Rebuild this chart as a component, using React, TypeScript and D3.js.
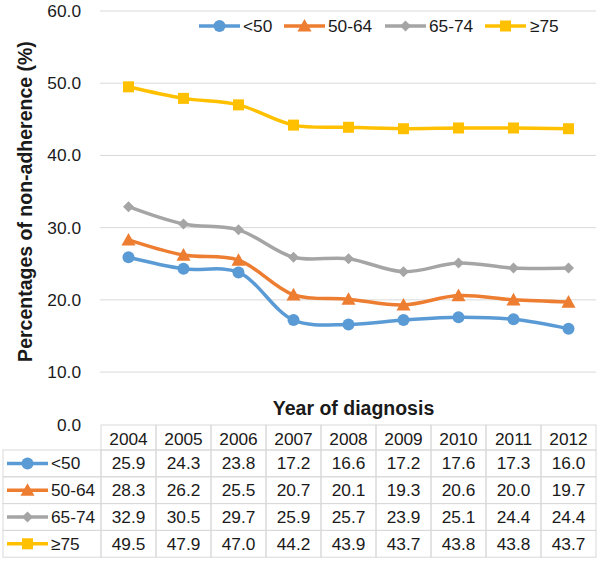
import React from "react";
import * as d3 from "d3";

const years = ["2004", "2005", "2006", "2007", "2008", "2009", "2010", "2011", "2012"];
const seriesNames = ["<50", "50-64", "65-74", "≥75"];
const lt50 = [25.9, 24.3, 23.8, 17.2, 16.6, 17.2, 17.6, 17.3, 16.0];
const s50_64 = [28.3, 26.2, 25.5, 20.7, 20.1, 19.3, 20.6, 20.0, 19.7];
const s65_74 = [32.9, 30.5, 29.7, 25.9, 25.7, 23.9, 25.1, 24.4, 24.4];
const ge75 = [49.5, 47.9, 47.0, 44.2, 43.9, 43.7, 43.8, 43.8, 43.7];
const yTicks = [10, 20, 30, 40, 50, 60];
const colors = ["#5B9BD5", "#ED7D31", "#A5A5A5", "#FFC000"];
const markerTypes = ["circle", "triangle", "diamond", "square"];

const seriesValues = [lt50, s50_64, s65_74, ge75];

const FONT = "'Liberation Sans', Arial, sans-serif";
const TEXT = "#1a1a1a";
const FS = 17.3;
const FSB = 19.5;

function Marker({ type, x, y, color }: { type: string; x: number; y: number; color: string }) {
  if (type === "circle") return <circle cx={x} cy={y} r={6} fill={color} />;
  if (type === "triangle") {
    const s = 7;
    return <path d={`M${x},${y - s} L${x + s},${y + s * 0.8} L${x - s},${y + s * 0.8} Z`} fill={color} />;
  }
  if (type === "diamond") {
    const s = 5.5;
    return <path d={`M${x},${y - s} L${x + s},${y} L${x},${y + s} L${x - s},${y} Z`} fill={color} />;
  }
  const s = 5.5;
  return <rect x={x - s} y={y - s} width={2 * s} height={2 * s} fill={color} />;
}

export default function App() {
  const W = 600, H = 561;
  const plotLeft = 101, plotRight = 596;
  const x = d3.scaleBand<string>().domain(years).range([plotLeft, plotRight]);
  const y = d3.scaleLinear().domain([0, 60]).range([444.3, 11]);
  const line = d3
    .line<number>()
    .x((_, i) => (x(years[i]) as number) + x.bandwidth() / 2)
    .y((d) => y(d))
    .curve(d3.curveCatmullRom.alpha(0.5));

  const tableTop = 425;
  const headerH = 25;
  const rowH = 26.8;
  const tableLeft = 3;
  const border = "#d9d9d9";

  const legendItems = [
    { lx: 199, tx: 243 },
    { lx: 284, tx: 328 },
    { lx: 385, tx: 429 },
    { lx: 485, tx: 530 },
  ];

  return (
    <svg width={W} height={H} style={{ position: "absolute", left: 0, top: 0, background: "#fff" }} fontFamily={FONT}>
      <rect width={W} height={H} fill="#fff" />
      {yTicks.map((t) => (
        <line key={t} x1={plotLeft - 1} x2={plotRight} y1={y(t)} y2={y(t)} stroke={border} strokeWidth={1} />
      ))}
      {yTicks.map((t) => (
        <text key={t} x={81} y={y(t)} dy="0.35em" textAnchor="end" fontSize={FS} fill={TEXT}>
          {t.toFixed(1)}
        </text>
      ))}
      <text x={81} y={tableTop} dy="0.35em" textAnchor="end" fontSize={FS} fill={TEXT}>
        {(0).toFixed(1)}
      </text>
      <text
        transform={`translate(25, ${201.5}) rotate(-90)`}
        textAnchor="middle"
        dy="0.35em"
        fontSize={FSB}
        fontWeight="bold"
        fill={TEXT}
      >
        Percentages of non-adherence (%)
      </text>
      <text x={353.5} y={408} textAnchor="middle" dy="0.35em" fontSize={FSB} fontWeight="bold" fill={TEXT}>
        Year of diagnosis
      </text>
      {seriesValues.map((vals, si) => (
        <g key={si}>
          <path d={line(vals) as string} fill="none" stroke={colors[si]} strokeWidth={3.5} strokeLinejoin="round" />
          {vals.map((v, i) => (
            <Marker
              key={i}
              type={markerTypes[si]}
              x={(x(years[i]) as number) + x.bandwidth() / 2}
              y={y(v)}
              color={colors[si]}
            />
          ))}
        </g>
      ))}
      {legendItems.map((it, si) => (
        <g key={si}>
          <line x1={it.lx} x2={it.lx + 41} y1={26} y2={26} stroke={colors[si]} strokeWidth={3.5} />
          <Marker type={markerTypes[si]} x={it.lx + 20.5} y={26} color={colors[si]} />
          <text x={it.tx} y={26} dy="0.35em" fontSize={FS} fill={TEXT}>
            {seriesNames[si]}
          </text>
        </g>
      ))}
      <g>
        {years.map((yr) => (
          <g key={yr}>
            <rect x={x(yr)} y={tableTop} width={x.bandwidth()} height={headerH} fill="none" stroke={border} strokeWidth={1} />
            <text
              x={(x(yr) as number) + x.bandwidth() / 2}
              y={tableTop + headerH / 2 + 1}
              dy="0.35em"
              textAnchor="middle"
              fontSize={FS}
              fill={TEXT}
            >
              {yr}
            </text>
          </g>
        ))}
        {seriesValues.map((vals, si) => {
          const ry = tableTop + headerH + si * rowH;
          return (
            <g key={si}>
              <rect x={tableLeft} y={ry} width={plotLeft - tableLeft} height={rowH} fill="none" stroke={border} />
              <line x1={7} x2={48} y1={ry + rowH / 2} y2={ry + rowH / 2} stroke={colors[si]} strokeWidth={3.5} />
              <Marker type={markerTypes[si]} x={27.5} y={ry + rowH / 2} color={colors[si]} />
              <text x={51} y={ry + rowH / 2} dy="0.35em" fontSize={FS} fill={TEXT}>
                {seriesNames[si]}
              </text>
              {vals.map((v, i) => (
                <g key={i}>
                  <rect x={x(years[i])} y={ry} width={x.bandwidth()} height={rowH} fill="none" stroke={border} />
                  <text
                    x={(x(years[i]) as number) + x.bandwidth() / 2}
                    y={ry + rowH / 2}
                    dy="0.35em"
                    textAnchor="middle"
                    fontSize={FS}
                    fill={TEXT}
                  >
                    {v.toFixed(1)}
                  </text>
                </g>
              ))}
            </g>
          );
        })}
      </g>
    </svg>
  );
}
